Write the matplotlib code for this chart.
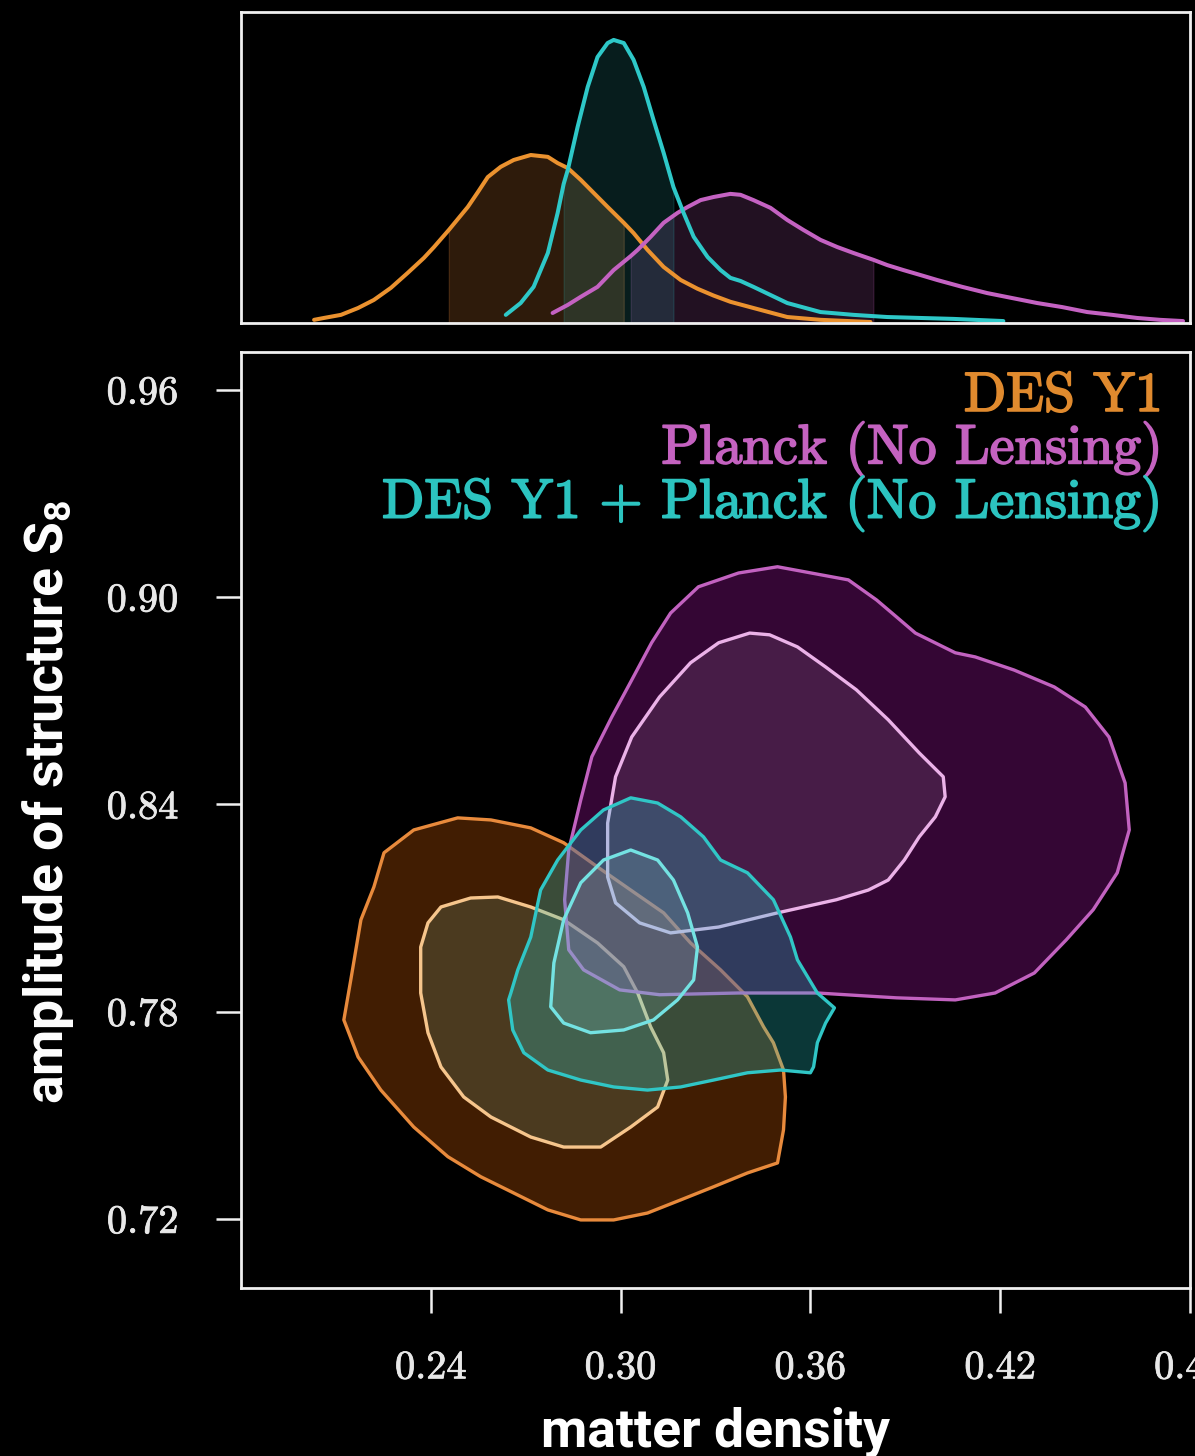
import matplotlib
matplotlib.use('Agg')  # no display
import matplotlib.pyplot as plt
import matplotlib.patheffects as pe

plt.rcParams['mathtext.default'] = 'regular'

# ---- 1D marginals of matter density (top panel) ----
des_1d_x = [0.2031, 0.2062, 0.2116, 0.2170, 0.2220, 0.2274, 0.2327, 0.2378, 0.2410, 0.2457,
            0.2517, 0.2549, 0.2580, 0.2621, 0.2662, 0.2716, 0.2770, 0.2801, 0.2833, 0.2874,
            0.2915, 0.2959, 0.3010, 0.3041, 0.3085, 0.3136, 0.3190, 0.3243, 0.3294, 0.3347,
            0.3420, 0.3527, 0.3632, 0.3790]
des_1d_p = [0.010, 0.016, 0.026, 0.048, 0.074, 0.113, 0.161, 0.209, 0.244, 0.299,
            0.373, 0.421, 0.469, 0.502, 0.524, 0.540, 0.534, 0.514, 0.498, 0.460,
            0.418, 0.373, 0.322, 0.289, 0.235, 0.180, 0.138, 0.110, 0.088, 0.068,
            0.048, 0.019, 0.010, 0.003]
des_1d_band = (0.2457, 0.3010)

planck_1d_x = [0.2785, 0.2833, 0.2874, 0.2927, 0.2978, 0.3032, 0.3054, 0.3095, 0.3136, 0.3180,
               0.3212, 0.3253, 0.3294, 0.3347, 0.3379, 0.3420, 0.3474, 0.3527, 0.3578, 0.3632,
               0.3685, 0.3736, 0.3799, 0.3843, 0.3894, 0.3948, 0.4001, 0.4080, 0.4159, 0.4238,
               0.4317, 0.4396, 0.4475, 0.4554, 0.4633, 0.4705, 0.4778]
planck_1d_p = [0.032, 0.058, 0.084, 0.116, 0.170, 0.215, 0.235, 0.277, 0.322, 0.354,
               0.373, 0.395, 0.405, 0.415, 0.412, 0.395, 0.370, 0.331, 0.299, 0.267,
               0.244, 0.225, 0.203, 0.186, 0.170, 0.154, 0.138, 0.116, 0.096, 0.080,
               0.064, 0.051, 0.035, 0.026, 0.016, 0.010, 0.006]
planck_1d_band = (0.3032, 0.3799)

comb_1d_x = [0.2637, 0.2684, 0.2725, 0.2770, 0.2801, 0.2820, 0.2833, 0.2864, 0.2896, 0.2927,
             0.2959, 0.2978, 0.3010, 0.3041, 0.3073, 0.3104, 0.3136, 0.3167, 0.3199, 0.3231,
             0.3275, 0.3316, 0.3347, 0.3379, 0.3420, 0.3527, 0.3632, 0.3736, 0.3843, 0.4052,
             0.4210]
comb_1d_p = [0.026, 0.064, 0.116, 0.225, 0.354, 0.447, 0.492, 0.630, 0.759, 0.855,
             0.900, 0.910, 0.900, 0.846, 0.759, 0.653, 0.547, 0.437, 0.354, 0.277,
             0.212, 0.170, 0.145, 0.135, 0.116, 0.064, 0.035, 0.026, 0.019, 0.013,
             0.006]
comb_1d_band = (0.2820, 0.3167)

# ---- 2D contours (Omega_m, S8): 95% outer and 68% inner ----
des_out_x = [0.2125, 0.2147, 0.2179, 0.2220, 0.2252, 0.2346, 0.2485, 0.2590, 0.2716, 0.2820,
             0.2927, 0.3032, 0.3136, 0.3221, 0.3316, 0.3401, 0.3452, 0.3483, 0.3515, 0.3521,
             0.3515, 0.3496, 0.3401, 0.3294, 0.3190, 0.3085, 0.2978, 0.2874, 0.2770, 0.2662,
             0.2558, 0.2454, 0.2346, 0.2242, 0.2170]
des_out_y = [0.7776, 0.7892, 0.8066, 0.8161, 0.8260, 0.8326, 0.8361, 0.8355, 0.8332, 0.8289,
             0.8219, 0.8152, 0.8086, 0.7999, 0.7921, 0.7843, 0.7756, 0.7710, 0.7631, 0.7553,
             0.7458, 0.7362, 0.7333, 0.7293, 0.7255, 0.7217, 0.7197, 0.7197, 0.7226, 0.7275,
             0.7322, 0.7380, 0.7466, 0.7573, 0.7669]
des_in_x = [0.2368, 0.2391, 0.2432, 0.2526, 0.2612, 0.2716, 0.2820, 0.2927, 0.3010, 0.3054,
            0.3095, 0.3136, 0.3149, 0.3117, 0.3032, 0.2937, 0.2820, 0.2716, 0.2590, 0.2504,
            0.2432, 0.2391, 0.2368]
des_in_y = [0.7987, 0.8057, 0.8103, 0.8129, 0.8132, 0.8103, 0.8066, 0.7999, 0.7930, 0.7854,
            0.7756, 0.7681, 0.7602, 0.7524, 0.7466, 0.7408, 0.7408, 0.7437, 0.7495, 0.7553,
            0.7640, 0.7739, 0.7854]

planck_out_x = [0.3496, 0.3373, 0.3246, 0.3158, 0.3098, 0.3035, 0.2972, 0.2909, 0.2874, 0.2836,
                0.2823, 0.2836, 0.2883, 0.2997, 0.3123, 0.3373, 0.3622, 0.3872, 0.4058, 0.4184,
                0.4308, 0.4409, 0.4494, 0.4570, 0.4608, 0.4595, 0.4544, 0.4469, 0.4371, 0.4244,
                0.4121, 0.4058, 0.3932, 0.3872, 0.3809, 0.3720]
planck_out_y = [0.9088, 0.9070, 0.9030, 0.8954, 0.8868, 0.8760, 0.8653, 0.8538, 0.8413, 0.8268,
                0.8124, 0.7979, 0.7921, 0.7863, 0.7849, 0.7854, 0.7854, 0.7840, 0.7834, 0.7854,
                0.7912, 0.8008, 0.8095, 0.8202, 0.8326, 0.8462, 0.8595, 0.8682, 0.8740, 0.8789,
                0.8827, 0.8839, 0.8896, 0.8943, 0.8992, 0.9050]
planck_in_x = [0.3408, 0.3310, 0.3221, 0.3123, 0.3035, 0.2984, 0.2959, 0.2959, 0.2984, 0.3060,
               0.3158, 0.3310, 0.3496, 0.3682, 0.3783, 0.3846, 0.3897, 0.3944, 0.3995, 0.4026,
               0.4020, 0.3944, 0.3846, 0.3745, 0.3648, 0.3559, 0.3471]
planck_in_y = [0.8896, 0.8868, 0.8810, 0.8711, 0.8595, 0.8480, 0.8346, 0.8190, 0.8115, 0.8057,
               0.8028, 0.8045, 0.8086, 0.8124, 0.8152, 0.8181, 0.8239, 0.8306, 0.8364, 0.8422,
               0.8480, 0.8549, 0.8645, 0.8732, 0.8798, 0.8856, 0.8891]

comb_out_x = [0.2653, 0.2675, 0.2716, 0.2747, 0.2801, 0.2874, 0.2946, 0.3032, 0.3117, 0.3190,
              0.3262, 0.3316, 0.3401, 0.3483, 0.3537, 0.3559, 0.3622, 0.3676, 0.3648, 0.3622,
              0.3610, 0.3600, 0.3505, 0.3401, 0.3294, 0.3190, 0.3085, 0.2978, 0.2874, 0.2770,
              0.2694, 0.2659, 0.2646]
comb_out_y = [0.7854, 0.7921, 0.8016, 0.8152, 0.8239, 0.8326, 0.8384, 0.8419, 0.8404, 0.8364,
              0.8306, 0.8239, 0.8202, 0.8124, 0.8016, 0.7950, 0.7854, 0.7811, 0.7767, 0.7710,
              0.7640, 0.7623, 0.7631, 0.7623, 0.7602, 0.7582, 0.7573, 0.7582, 0.7602, 0.7631,
              0.7681, 0.7747, 0.7834]
comb_in_x = [0.2779, 0.2789, 0.2820, 0.2874, 0.2946, 0.3032, 0.3117, 0.3167, 0.3212, 0.3243,
             0.3231, 0.3180, 0.3104, 0.3010, 0.2905, 0.2820]
comb_in_y = [0.7814, 0.7941, 0.8066, 0.8173, 0.8239, 0.8268, 0.8239, 0.8181, 0.8086, 0.7987,
             0.7892, 0.7834, 0.7776, 0.7747, 0.7739, 0.7767]

labels = ["DES Y1", "Planck (No Lensing)", "DES Y1 + Planck (No Lensing)"]
x_ticks = [0.24, 0.30, 0.36, 0.42, 0.48]
x_ticklabels = ["0.24", "0.30", "0.36", "0.42", "0.48"]
y_ticks = [0.72, 0.78, 0.84, 0.90, 0.96]
y_ticklabels = ["0.72", "0.78", "0.84", "0.90", "0.96"]

# colours
ORANGE = '#e88a3c'
PURPLE = '#c262c0'
CYAN = '#30c6c6'

fig = plt.figure(figsize=(11.95, 14.56), dpi=100, facecolor='black')
ax_top = fig.add_axes([0.2017, 0.7782, 0.7941, 0.2136], facecolor='black')
ax = fig.add_axes([0.2017, 0.1154, 0.7941, 0.6429], facecolor='black')

for a in (ax_top, ax):
    for sp in a.spines.values():
        sp.set_color('#f0f0f0')
        sp.set_linewidth(2.0)

# ---- top panel ----
def band(a, xs, ps, lims, color, alpha):
    mask = [lims[0] - 1e-6 <= v <= lims[1] + 1e-6 for v in xs]
    a.fill_between(xs, 0, ps, where=mask, color=color, alpha=alpha, lw=1.0)

band(ax_top, des_1d_x, des_1d_p, des_1d_band, ORANGE, 0.2)
band(ax_top, planck_1d_x, planck_1d_p, planck_1d_band, PURPLE, 0.18)
band(ax_top, comb_1d_x, comb_1d_p, comb_1d_band, CYAN, 0.15)
line_kw = dict(lw=2.9, solid_capstyle='round', solid_joinstyle='round')
ax_top.plot(des_1d_x, des_1d_p, color='#eb922f', **line_kw)
ax_top.plot(planck_1d_x, planck_1d_p, color='#c462c2', **line_kw)
ax_top.plot(comb_1d_x, comb_1d_p, color='#2ec8c8', **line_kw)
ax_top.set_xlim(0.18, 0.48)
ax_top.set_ylim(0, 1)
ax_top.set_xticks([])
ax_top.set_yticks([])

# ---- main panel ----
def contour(xo, yo, xi, yi, fc_out, a_out, fc_in, a_in, lc_out, lc_in):
    ax.fill(xo, yo, color=fc_out, alpha=a_out, lw=0)
    ax.fill(xi, yi, color=fc_in, alpha=a_in, lw=0)
    ax.fill(xo, yo, fill=False, edgecolor=lc_out, lw=2.4, joinstyle='round')
    ax.fill(xi, yi, fill=False, edgecolor=lc_in, lw=2.4, joinstyle='round')

contour(des_out_x, des_out_y, des_in_x, des_in_y,
        '#411d02', 1.0, '#4b3a1f', 1.0, ORANGE, '#f6c58c')
contour(planck_out_x, planck_out_y, planck_in_x, planck_in_y,
        '#8a108a', 0.38, '#b4a0b4', 0.15, PURPLE, '#ebb2e8')
contour(comb_out_x, comb_out_y, comb_in_x, comb_in_y,
        '#28c8c8', 0.28, '#a0e0e0', 0.15, CYAN, '#74e2e2')

ax.set_xlim(0.18, 0.48)
ax.set_ylim(0.70, 0.971)
ax.set_xticks(x_ticks, x_ticklabels)
ax.set_yticks(y_ticks, y_ticklabels)
ax.tick_params(direction='out', length=18, width=1.8, color='#f0f0f0',
               pad=27, labelsize=29, labelcolor='#e8e8e8')
for t in ax.get_xticklabels() + ax.get_yticklabels():
    t.set_family('cmr10')
    t.set_path_effects([pe.withStroke(linewidth=0.6, foreground='#e8e8e8')])

legend_colors = ['#e08a2e', '#c462c0', '#2cc4c0']
legend_y = [0.937, 0.881, 0.823]
for txt, c, yy in zip(labels, legend_colors, legend_y):
    ax.text(0.9715, yy, txt, transform=ax.transAxes, ha='right', va='baseline',
            color=c, fontsize=40, family='cmr10',
            path_effects=[pe.withStroke(linewidth=1.3, foreground=c)])

lab_font = dict(family=['Liberation Sans Narrow', 'Roboto'], weight='bold',
                color='white', fontsize=38.5)
ax.set_xlabel('matter density', va='center', **lab_font)
ax.xaxis.set_label_coords(0.5, -0.154)
ax.set_ylabel(r'amplitude of structure S$_{8}$', va='center', **lab_font)
ax.yaxis.set_label_coords(-0.203, 0.520)

fig.savefig('out.png', dpi=100, facecolor='black')
